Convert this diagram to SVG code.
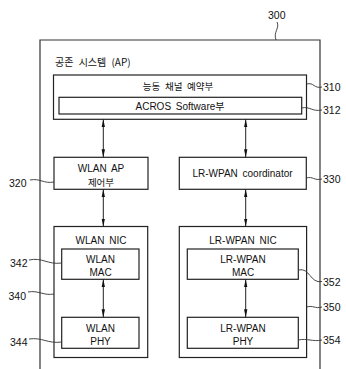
<svg xmlns="http://www.w3.org/2000/svg" width="346" height="369" viewBox="0 0 346 369">
<style>
.box{fill:#fff;stroke:#222;stroke-width:1.2}
.frame{fill:none;stroke:#333;stroke-width:1.2}
.conn{stroke:#222;stroke-width:1;fill:none}
.lead{stroke:#333;stroke-width:0.9;fill:none}
.t{font-family:"Liberation Sans","Noto Sans CJK KR",sans-serif;font-size:10px;fill:#111;text-anchor:middle;dominant-baseline:central;word-spacing:2px}
.k{font-family:"Noto Sans CJK KR","Liberation Sans",sans-serif;font-size:9.5px;fill:#111;text-anchor:middle;dominant-baseline:central;word-spacing:2.5px}
.n{font-family:"Liberation Sans",sans-serif;font-size:10.5px;fill:#111;dominant-baseline:central}
</style>
<defs>
<marker id="ah" markerUnits="userSpaceOnUse" markerWidth="8" markerHeight="5" refX="8" refY="2.5" orient="auto-start-reverse">
<path d="M0,0.8 L8,2.5 L0,4.2 z" fill="#111"/>
</marker>
</defs>

<g id="n300">
<path class="frame" d="M40,369 V40 H320 V369"/>
<text class="n" x="268" y="15">300</text>
<path class="lead" d="M277,22 C280,28 273,32 276,40"/>
<text class="k" x="55" y="61" style="text-anchor:start;font-size:10px;word-spacing:3px">공존 시스템 (AP)</text>
</g>

<g id="n310">
<rect class="box" x="53.5" y="75" width="253" height="44.3"/>
<text class="k" x="178" y="86">능동 채널 예약부</text>
<path class="lead" d="M306.7,84 C314,82 314,89 322,87"/>
<text class="n" x="323" y="87">310</text>
</g>

<g id="n312">
<rect class="box" x="59" y="97.3" width="242.7" height="16.7"/>
<text class="t" x="180" y="106">ACROS Software부</text>
<path class="lead" d="M301.7,108 C310,106 312,112 322,110"/>
<text class="n" x="323" y="110">312</text>
</g>

<g id="n320">
<rect class="box" x="54" y="157.3" width="94" height="32"/>
<text class="t" x="101" y="168">WLAN AP</text>
<text class="k" x="101" y="181.5" style="word-spacing:0">제어부</text>
<path class="lead" d="M30,180 C40,178 44,184 54,182"/>
<text class="n" x="9" y="182.5">320</text>
</g>

<g id="n330">
<rect class="box" x="179.3" y="157.3" width="127" height="32"/>
<text class="t" x="242.5" y="173">LR-WPAN coordinator</text>
<path class="lead" d="M306.3,178 C313,176 314,181 322,179"/>
<text class="n" x="323" y="179">330</text>
</g>

<g id="n340">
<rect class="box" x="54" y="226.5" width="93.7" height="131"/>
<text class="t" x="101" y="240.5">WLAN NIC</text>
<path class="lead" d="M28,292 C38,290 44,296 54,294"/>
<text class="n" x="8.5" y="296">340</text>
</g>

<g id="n342">
<rect class="box" x="61.7" y="249" width="77.3" height="30.3"/>
<text class="t" x="100.5" y="259">WLAN</text>
<text class="t" x="100.5" y="272.5">MAC</text>
<path class="lead" d="M29,260 C42,257 48,265 61.7,263"/>
<text class="n" x="10" y="262.7">342</text>
</g>

<g id="n344">
<rect class="box" x="61.7" y="317.3" width="77.3" height="31"/>
<text class="t" x="100.5" y="328">WLAN</text>
<text class="t" x="100.5" y="341">PHY</text>
<path class="lead" d="M29,339 C42,337 48,344 61.7,342"/>
<text class="n" x="10" y="341.7">344</text>
</g>

<g id="n350">
<rect class="box" x="179.3" y="226.5" width="127.3" height="131"/>
<text class="t" x="243" y="240.5">LR-WPAN NIC</text>
<path class="lead" d="M306.7,307 C313,305 315,309 322,307"/>
<text class="n" x="323" y="307">350</text>
</g>

<g id="n352">
<rect class="box" x="187.3" y="249" width="111" height="30.3"/>
<text class="t" x="243" y="259">LR-WPAN</text>
<text class="t" x="243" y="272.5">MAC</text>
<path class="lead" d="M298.3,270 C310,267 310,284 322,281.5"/>
<text class="n" x="323" y="281.5">352</text>
</g>

<g id="n354">
<rect class="box" x="187.3" y="317.3" width="111" height="31"/>
<text class="t" x="243" y="328">LR-WPAN</text>
<text class="t" x="243" y="341">PHY</text>
<path class="lead" d="M298.3,340 C308,338 312,342 322,340"/>
<text class="n" x="323" y="340">354</text>
</g>

<g id="connectors">
<line class="conn" x1="103.3" y1="119.3" x2="103.3" y2="157.3" marker-start="url(#ah)" marker-end="url(#ah)"/>
<line class="conn" x1="245.7" y1="119.3" x2="245.7" y2="157.3" marker-start="url(#ah)" marker-end="url(#ah)"/>
<line class="conn" x1="103.3" y1="189.3" x2="103.3" y2="226.5" marker-start="url(#ah)" marker-end="url(#ah)"/>
<line class="conn" x1="245.7" y1="189.3" x2="245.7" y2="226.5" marker-start="url(#ah)" marker-end="url(#ah)"/>
<line class="conn" x1="103.3" y1="279.3" x2="103.3" y2="317.3" marker-start="url(#ah)" marker-end="url(#ah)"/>
<line class="conn" x1="245.7" y1="279.3" x2="245.7" y2="317.3" marker-start="url(#ah)" marker-end="url(#ah)"/>
</g>
</svg>
